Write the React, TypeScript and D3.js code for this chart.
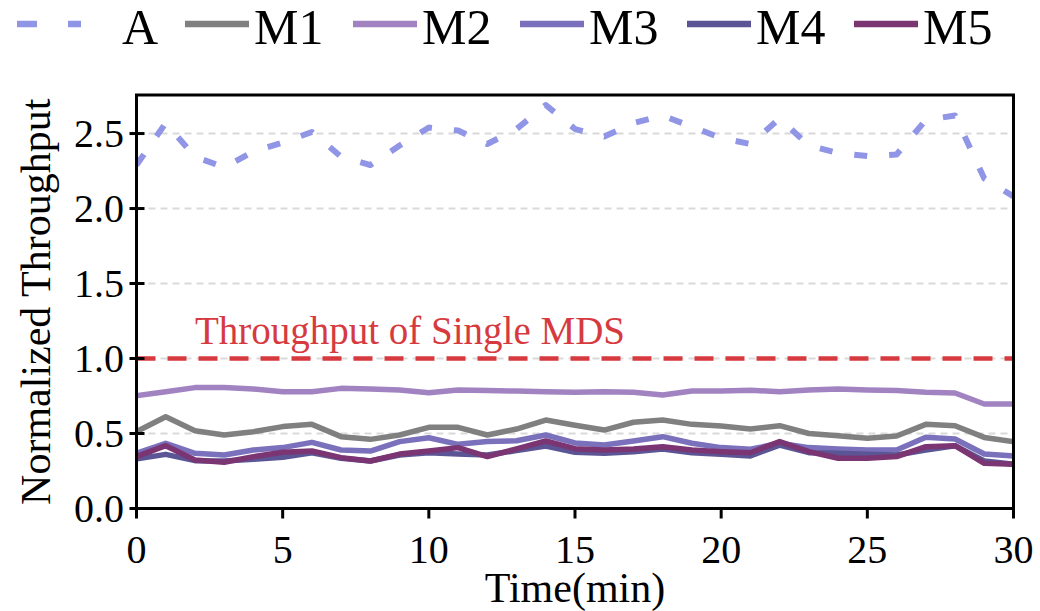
import React from "react";
import * as d3 from "d3";

const timeMin = d3.range(0, 31);
const seriesA = [2.29, 2.57, 2.345, 2.275, 2.38, 2.44, 2.51, 2.345, 2.29, 2.42, 2.54, 2.52, 2.43, 2.53, 2.69, 2.53, 2.48, 2.57, 2.62, 2.545, 2.47, 2.43, 2.6, 2.42, 2.37, 2.35, 2.36, 2.59, 2.62, 2.2, 2.08];
const seriesM1 = [0.512, 0.612, 0.519, 0.49, 0.512, 0.546, 0.561, 0.479, 0.461, 0.49, 0.541, 0.541, 0.49, 0.53, 0.59, 0.555, 0.523, 0.575, 0.59, 0.561, 0.55, 0.53, 0.552, 0.5, 0.485, 0.468, 0.483, 0.561, 0.552, 0.474, 0.445];
const seriesM2 = [0.752, 0.779, 0.806, 0.806, 0.797, 0.779, 0.779, 0.801, 0.797, 0.79, 0.772, 0.79, 0.786, 0.783, 0.779, 0.775, 0.779, 0.775, 0.757, 0.783, 0.783, 0.788, 0.779, 0.79, 0.797, 0.79, 0.786, 0.775, 0.77, 0.697, 0.697];
const seriesM3 = [0.368, 0.435, 0.368, 0.357, 0.39, 0.406, 0.441, 0.39, 0.383, 0.446, 0.472, 0.428, 0.446, 0.452, 0.49, 0.437, 0.423, 0.45, 0.479, 0.435, 0.406, 0.395, 0.435, 0.406, 0.397, 0.39, 0.39, 0.475, 0.463, 0.363, 0.35];
const seriesM4 = [0.33, 0.361, 0.319, 0.317, 0.328, 0.341, 0.372, 0.335, 0.317, 0.357, 0.372, 0.363, 0.357, 0.386, 0.417, 0.375, 0.368, 0.379, 0.397, 0.372, 0.361, 0.35, 0.423, 0.372, 0.368, 0.361, 0.357, 0.39, 0.419, 0.317, 0.295];
const seriesM5 = [0.346, 0.419, 0.323, 0.308, 0.346, 0.375, 0.383, 0.339, 0.317, 0.363, 0.383, 0.406, 0.346, 0.397, 0.45, 0.399, 0.39, 0.397, 0.412, 0.39, 0.379, 0.372, 0.446, 0.379, 0.335, 0.335, 0.346, 0.412, 0.419, 0.301, 0.295];

const seriesNames = ["A", "M1", "M2", "M3", "M4", "M5"];
const seriesColors = ["#9095e6", "#808080", "#a283c2", "#7a70bb", "#5c5595", "#7a3572"];
const xTicks = [0, 5, 10, 15, 20, 25, 30];
const yTicks = [0, 0.5, 1.0, 1.5, 2.0, 2.5];
const gridValues = [0.5, 1.0, 1.5, 2.0, 2.5];
const singleMdsLevel = 1.0;
const singleMdsLabel = "Throughput of Single MDS";

const W = 1040;
const H = 611;
const left = 136.5;
const right = 1013.5;
const top = 95;
const bottom = 508.5;
const FONT = "'Liberation Serif', 'Times New Roman', serif";

export default function App() {
  const x = d3.scaleLinear().domain([0, 30]).range([left, right]);
  const y = d3.scaleLinear().domain([0, 2.757]).range([bottom, top]);
  const line = d3
    .line<number>()
    .x((_, i) => x(timeMin[i]))
    .y((d) => y(d));

  const allSeries = [seriesA, seriesM1, seriesM2, seriesM3, seriesM4, seriesM5];

  const legendItems = [
    { h0: 17, t: 122 },
    { h0: 185, t: 254 },
    { h0: 353, t: 422 },
    { h0: 520, t: 589 },
    { h0: 687, t: 756 },
    { h0: 854, t: 923 },
  ];

  return (
    <svg
      width={W}
      height={H}
      style={{ position: "absolute", left: 0, top: 0, background: "#fff" }}
      fontFamily={FONT}
    >
      <rect x={0} y={0} width={W} height={H} fill="#fff" />
      <defs>
        <clipPath id="plotclip">
          <rect x={left} y={top} width={right - left} height={bottom - top} />
        </clipPath>
      </defs>

      {gridValues.map((v) => (
        <line
          key={"g" + v}
          x1={left}
          x2={right}
          y1={y(v)}
          y2={y(v)}
          stroke="#d9d9d9"
          strokeWidth={2}
          strokeDasharray="7 5"
        />
      ))}

      <line
        x1={left}
        x2={right}
        y1={y(singleMdsLevel)}
        y2={y(singleMdsLevel)}
        stroke="#d63a3f"
        strokeWidth={4.5}
        strokeDasharray="19 12"
      />
      <text x={x(2)} y={y(1.1)} fontSize={39} fill="#d63a3f">
        {singleMdsLabel}
      </text>

      <g clipPath="url(#plotclip)">
        {allSeries.map((s, i) => (
          <path
            key={seriesNames[i]}
            d={line(s) || ""}
            fill="none"
            stroke={seriesColors[i]}
            strokeWidth={i === 0 ? 6 : 5.5}
            strokeDasharray={i === 0 ? "13 22" : undefined}
            strokeLinejoin="round"
            strokeLinecap={i === 0 ? "butt" : "square"}
          />
        ))}
      </g>

      <rect
        x={left}
        y={top}
        width={right - left}
        height={bottom - top}
        fill="none"
        stroke="#000"
        strokeWidth={3}
      />

      {xTicks.map((t) => (
        <g key={"x" + t}>
          <line x1={x(t)} x2={x(t)} y1={bottom} y2={bottom + 10} stroke="#000" strokeWidth={3} />
          <text x={x(t)} y={563} fontSize={40} textAnchor="middle" fill="#000">
            {t}
          </text>
        </g>
      ))}

      {yTicks.map((t) => (
        <g key={"y" + t}>
          <line x1={left - 7} x2={left + 8} y1={y(t)} y2={y(t)} stroke="#000" strokeWidth={3} />
          <text x={124} y={y(t) + 13} fontSize={40} textAnchor="end" fill="#000">
            {t.toFixed(1)}
          </text>
        </g>
      ))}

      <text x={(left + right) / 2} y={602} fontSize={42} textAnchor="middle" fill="#000">
        Time(min)
      </text>
      <text
        transform={`translate(50, ${(top + bottom) / 2}) rotate(-90)`}
        fontSize={42}
        textAnchor="middle"
        fill="#000"
      >
        Normalized Throughput
      </text>

      {legendItems.map((it, i) => (
        <g key={"l" + i}>
          <line
            x1={it.h0}
            x2={it.h0 + 64}
            y1={24}
            y2={24}
            stroke={seriesColors[i]}
            strokeWidth={6.5}
            strokeDasharray={i === 0 ? "20 31 13 100" : undefined}
          />
          <text x={it.t} y={44} fontSize={50} fill="#000">
            {seriesNames[i]}
          </text>
        </g>
      ))}
    </svg>
  );
}
